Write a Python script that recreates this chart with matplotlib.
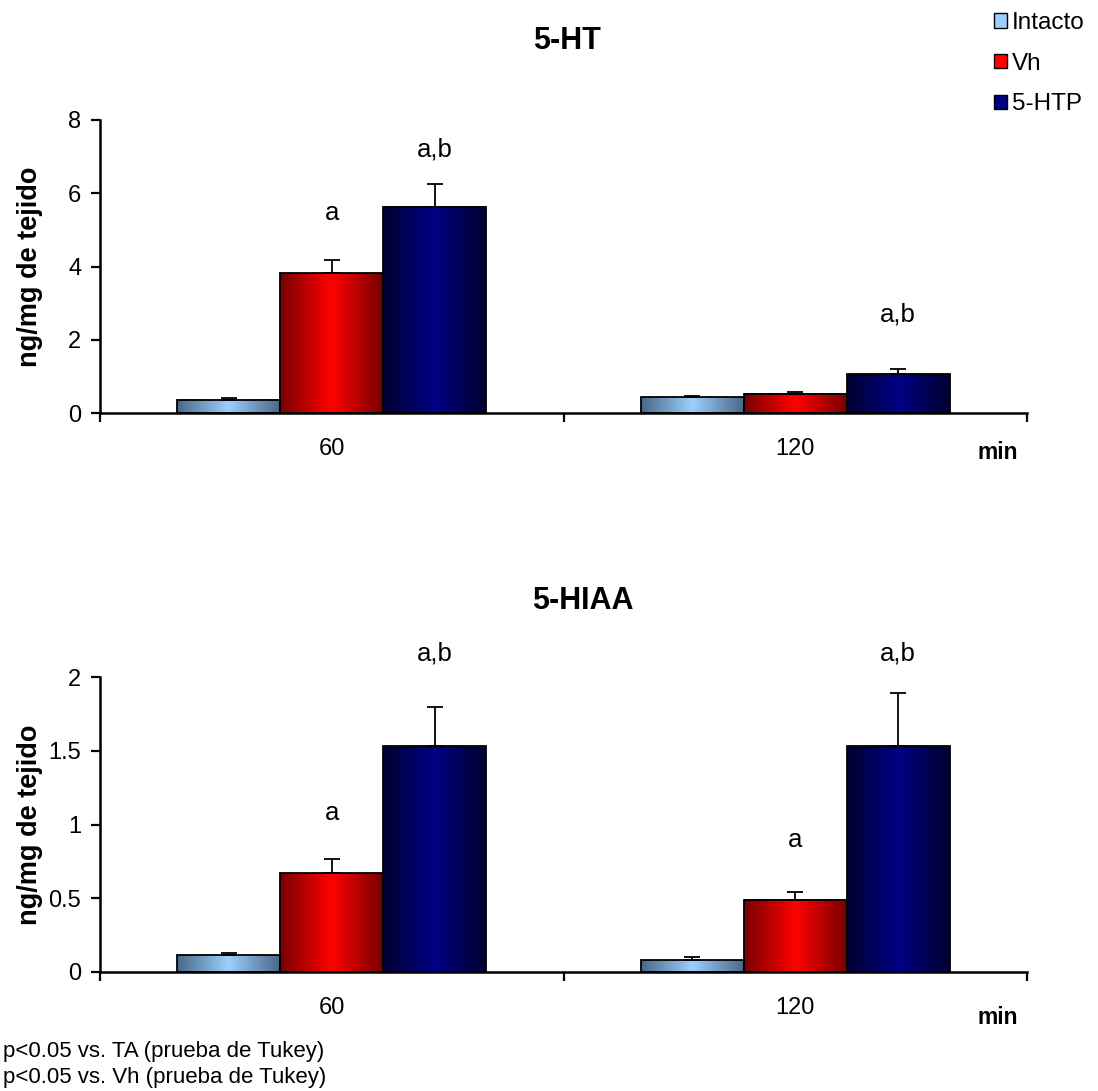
import numpy as np
import matplotlib
matplotlib.use("Agg")
import matplotlib.pyplot as plt
from matplotlib.colors import LinearSegmentedColormap
from matplotlib.patches import Patch

plt.rcParams["font.family"] = ["Liberation Sans", "DejaVu Sans"]

times = ["60", "120"]
groups = ["Intacto", "Vh", "5-HTP"]

ht_vals = [[0.36, 3.81, 5.63], [0.43, 0.53, 1.06]]
ht_errs = [[0.04, 0.37, 0.62], [0.04, 0.05, 0.15]]
hiaa_vals = [[0.115, 0.67, 1.53], [0.08, 0.49, 1.53]]
hiaa_errs = [[0.015, 0.095, 0.27], [0.024, 0.05, 0.36]]

# marks: (time index, group index, text)
ht_marks = [(0, 1, "a"), (0, 2, "a,b"), (1, 2, "a,b")]
hiaa_marks = [(0, 1, "a"), (0, 2, "a,b"), (1, 1, "a"), (1, 2, "a,b")]

footnotes = ["p<0.05 vs. TA (prueba de Tukey)", "p<0.05 vs. Vh (prueba de Tukey)"]

# edge, center colours of the horizontal gradients
GRAD = [("#4a6887", "#9ccfff"), ("#780000", "#ff0000"), ("#000030", "#000085")]
cmaps = [LinearSegmentedColormap.from_list(f"g{i}", [e, c, e]) for i, (e, c) in enumerate(GRAD)]

W = 0.222
grad = np.linspace(0, 1, 200).reshape(1, -1)
FS = 17


def draw(ax, vals, errs, marks, mark_y, ylim, yticks, ylabels, title, title_x, title_y, min_y):
    for t in range(len(times)):
        for g in range(len(groups)):
            x = t + 0.5 + (g - 1) * W
            v = vals[t][g]
            ax.imshow(grad, extent=[x - W / 2, x + W / 2, 0, v], aspect="auto",
                      cmap=cmaps[g], zorder=2, interpolation="bilinear")
            ax.bar(x, v, W, facecolor="none", edgecolor="black", linewidth=1.3, zorder=3)
            ax.errorbar(x, v, yerr=[[0], [errs[t][g]]], fmt="none", ecolor="black",
                        elinewidth=1.3, capsize=5.5, capthick=1.3, zorder=4)
    for (t, g, s), y in zip(marks, mark_y):
        ax.text(t + 0.5 + (g - 1) * W, y, s, ha="center", va="center",
                fontsize=18.5, clip_on=False)
    ax.set_xlim(0, 2)
    ax.set_ylim(*ylim)
    ax.set_yticks(yticks)
    ax.set_yticklabels(ylabels, fontsize=FS)
    ax.set_xticks([0.5, 1.5])
    ax.set_xticklabels(times, fontsize=FS)
    ax.set_xticks([0, 1, 2], minor=True)
    ax.tick_params(axis="x", which="major", length=0, pad=18)
    ax.tick_params(axis="x", which="minor", length=6.5, width=1.6, direction="out")
    ax.tick_params(axis="y", length=6.5, width=1.6, direction="out", pad=7)
    for s in ["top", "right"]:
        ax.spines[s].set_visible(False)
    for s in ["left", "bottom"]:
        ax.spines[s].set_linewidth(1.8)
    ax.set_ylabel("ng/mg de tejido", fontsize=19.5, fontweight="bold")
    ax.yaxis.set_label_coords(-0.062, 0.5)
    fig.text(title_x, title_y, title, ha="center", va="center", fontsize=22, fontweight="bold")
    fig.text(998 / 1098, min_y, "min", ha="center", va="center", fontsize=16.5, fontweight="bold")


fig = plt.figure(figsize=(10.98, 10.91), dpi=100)
ax1 = fig.add_axes([100 / 1098, 1 - 413 / 1091, 927 / 1098, 293 / 1091])
ax2 = fig.add_axes([100 / 1098, 1 - 972 / 1091, 927 / 1098, 295 / 1091])

draw(ax1, ht_vals, ht_errs, ht_marks, [5.46, 7.2, 2.68], (0, 8), [0, 2, 4, 6, 8],
     ["0", "2", "4", "6", "8"], "5-HT", 567 / 1098, 1 - 41 / 1091, 1 - 452 / 1091)
draw(ax2, hiaa_vals, hiaa_errs, hiaa_marks, [1.08, 2.16, 0.895, 2.16], (0, 2),
     [0, 0.5, 1, 1.5, 2], ["0", "0.5", "1", "1.5", "2"], "5-HIAA",
     583 / 1098, 1 - 601 / 1091, 1 - 1017 / 1091)

handles = [Patch(facecolor=c, edgecolor="black", linewidth=1.0) for _, c in GRAD]
fig.legend(handles, groups, loc="upper left", bbox_to_anchor=(994 / 1098, 1 - 12 / 1091),
           frameon=False, fontsize=17.5, handlelength=0.55, handleheight=0.55,
           handletextpad=0.2, labelspacing=0.77, borderpad=0, borderaxespad=0)

fig.text(3 / 1098, 1 - 1052 / 1091, footnotes[0], ha="left", va="center", fontsize=16)
fig.text(3 / 1098, 1 - 1077 / 1091, footnotes[1], ha="left", va="center", fontsize=16)

fig.savefig("out.png", dpi=100, facecolor="white")
